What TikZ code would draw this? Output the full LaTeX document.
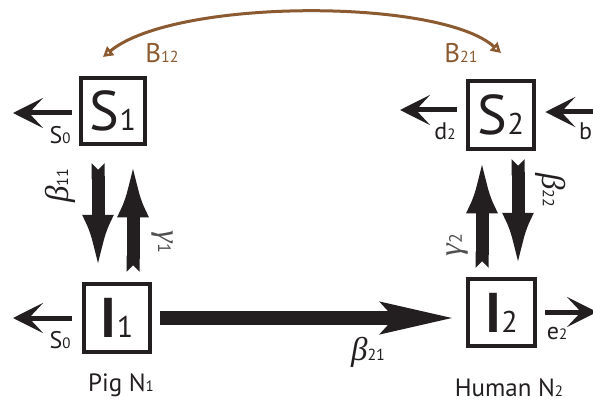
\documentclass[tikz,border=0pt]{standalone}
\usepackage{fontspec}
\setmainfont{PT Sans}
\newfontfamily\grkfont{Liberation Serif}
\usetikzlibrary{arrows.meta,calc}
\definecolor{ink}{RGB}{35,31,32}
\definecolor{bronze}{RGB}{140,90,48}
\definecolor{greyink}{RGB}{80,80,80}
\newcommand\fs[2]{{\fontsize{#1}{#1}\selectfont #2}}
\newcommand\SubLab[4]{\fs{#1}{#2}\fs{#3}{#4}}
\newcommand\GrkLab[4]{\fs{#1}{\grkfont\itshape #2}\fs{#3}{#4}}
\begin{document}
\begin{tikzpicture}[x=1pt,y=-1pt,
  box/.style={draw=ink, line width=4.5pt, inner sep=0pt, minimum width=66pt, minimum height=68pt, text=ink},
  lab/.style={inner sep=0pt, text=ink},
  brownlab/.style={inner sep=0pt, text=bronze},
  vflow/.style={ink, line width=13pt, {Triangle Cap[reversed]}-{Latex[length=57pt,width=31pt]}},
  hflow/.style={ink, line width=14pt, -{Stealth[length=72pt,width=30pt,inset=12pt]}},
  smallflow/.style={ink, line width=5pt, -{Stealth[length=30pt,width=30pt,inset=14pt]}},
  link/.style={bronze, line width=3pt, {Triangle[open,length=10pt,width=11pt]}-{Triangle[open,length=10pt,width=11pt]}}
]
\clip (0,0) rectangle (593,403);

% compartments
\node[box, minimum width=64pt, minimum height=66pt] (S1) at (113,111) {\SubLab{56}{S}{30}{1}};
\node[box] (S2) at (501,115) {\SubLab{56}{S}{30}{2}};
\node[box] (I1) at (117,318) {\SubLab{56}{\bfseries I}{30}{1}};
\node[box, minimum width=67pt, minimum height=67pt] (I2) at (501.5,312.5) {\SubLab{56}{\bfseries I}{30}{2}};

% vertical flows
\draw[vflow] ($(S1.south)+(-15,17)$) -- ($(I1.north)+(-19,-10)$);
\draw[vflow] ($(I1.north)+(16,-10)$) -- ($(S1.south)+(20,14)$);
\draw[vflow] ($(I2.north)+(-19.5,-9)$) -- ($(S2.south)+(-19,5)$);
\draw[vflow] ($(S2.south)+(17,8)$) -- ($(I2.north)+(16.5,-7)$);

% transmission pig -> human
\coordinate (hstart) at ($(I1.east)+(8,0)$);
\draw[hflow] (hstart) -- ($(hstart -| I2.west)+(-11,0)$);

% small flows
\coordinate (oS1) at (13,113);
\coordinate (oI1) at (13,318);
\coordinate (oS2) at (400,110);
\coordinate (inS2) at (600,112);
\coordinate (oI2) at (597,312);
\draw[smallflow] ($(S1.west |- oS1)+(-7,0)$) -- (oS1);
\draw[smallflow] ($(I1.west |- oI1)+(-10,0)$) -- (oI1);
\draw[smallflow] ($(S2.west |- oS2)+(-9,0)$) -- (oS2);
\draw[smallflow] (inS2) -- ($(S2.east |- inS2)+(9,0)$);
\draw[smallflow] ($(I2.east |- oI2)+(8,0)$) -- (oI2);

% contact link
\coordinate (tipL) at (103,57);
\coordinate (tipR) at (501,53);
\draw[link] (tipL) .. controls (175,-2) and (440,-2) .. (tipR);

% labels
\node[lab] (s0a) at (60,135) {\SubLab{24}{S}{15}{0}};
\node[lab] (s0b) at (60,340) {\SubLab{24}{S}{15}{0}};
\node[lab] (d2) at (445,131) {\SubLab{24}{d}{15}{2}};
\node[lab, anchor=west] (bb) at (579,131) {\fs{24}{b}};
\node[lab] (e2) at (557,333) {\SubLab{24}{e}{15}{2}};
\node[brownlab] (B12) at (162,53) {\SubLab{27}{B}{16}{12}};
\node[brownlab] (B21) at (461,53) {\SubLab{27}{B}{16}{21}};
\node[lab] (pig) at (121,385) {\SubLab{25}{Pig N}{15}{1}};
\node[lab] (human) at (509,388) {\SubLab{25}{Human N}{15}{2}};

\node[lab, rotate=90] (beta11) at (60,186) {\GrkLab{33}{β}{16}{11}};
\node[lab, rotate=-90] (beta22) at (551,190) {\GrkLab{33}{β}{16}{22}};
\node[lab] (beta21) at (368,352) {\GrkLab{33}{β}{16}{21}};
\node[lab, rotate=-90, text=greyink] (gamma1) at (162,242) {\GrkLab{32}{γ}{18}{1}};
\node[lab, rotate=90, text=greyink] (gamma2) at (458,245) {\GrkLab{32}{γ}{18}{2}};
\end{tikzpicture}
\end{document}
